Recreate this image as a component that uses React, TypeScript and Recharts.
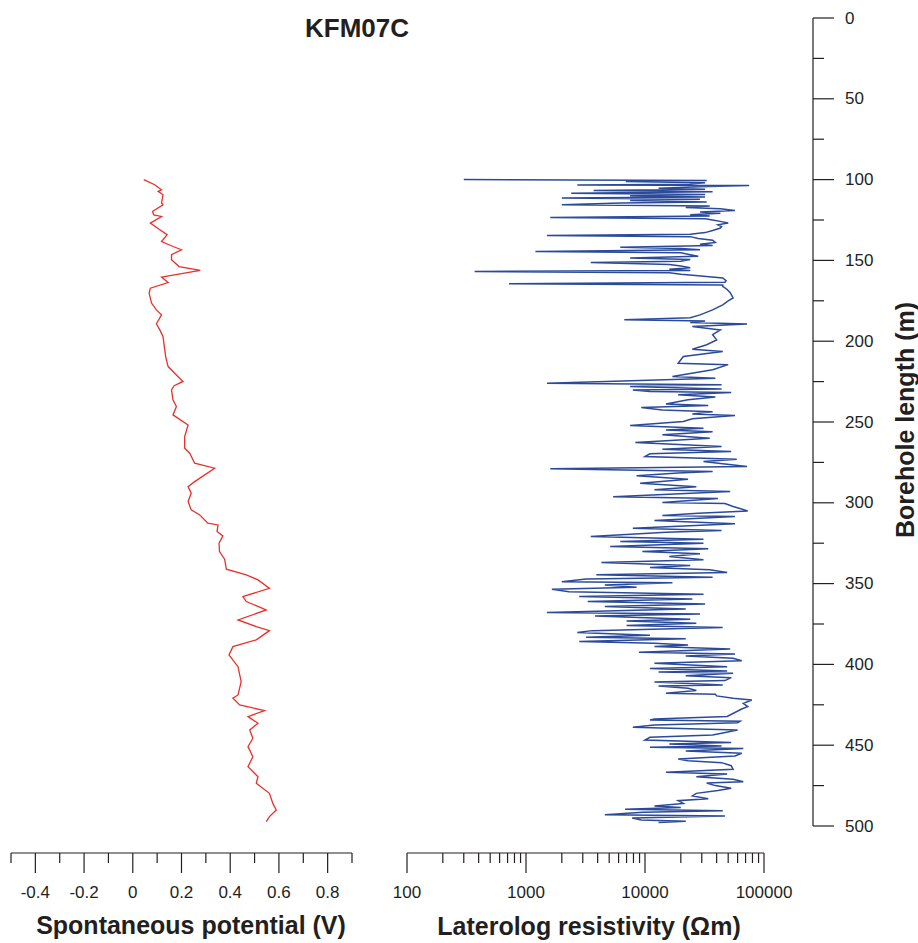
import React from 'react'
import { LineChart, Line, XAxis, YAxis } from 'recharts'

const FONT = 'Arial, "Liberation Sans", Helvetica, sans-serif'
const INK = '#231f20'
const RED = '#e8302a'
const BLUE = '#2b4a99'

// depth axis (m)
const depthMajor = [0, 50, 100, 150, 200, 250, 300, 350, 400, 450, 500]
const depthMinor = [25, 75, 125, 175, 225, 275, 325, 375, 425, 475]

// spontaneous potential axis (V)
const spMajor = [-0.4, -0.2, 0, 0.2, 0.4, 0.6, 0.8]
const spMinor = [-0.5, -0.3, -0.1, 0.1, 0.3, 0.5, 0.7, 0.9]

// laterolog resistivity axis (Ohm m, log)
const resMajor = [100, 1000, 10000, 100000]
const resMinor = [
  200, 300, 400, 500, 600, 700, 800, 900,
  2000, 3000, 4000, 5000, 6000, 7000, 8000, 9000,
  20000, 30000, 40000, 50000, 60000, 70000, 80000, 90000,
]

// spontaneous potential log
const spDepth = [
  100, 103.2, 106.3, 107.3, 109.4, 114.5, 115.6, 119.7, 121.8, 122.8,
  126.9, 131, 134.1, 138.3, 141.4, 143.4, 146.5, 149.6, 153.8, 156.2,
  160.3, 163.7, 167.2, 170.2, 176.4, 180.6, 183.7, 189.2, 193, 197.1,
  209.5, 215.7, 219.8, 224.9, 227.5, 230.1, 236.3, 240.4, 245.6, 251.8,
  259, 266.2, 269.3, 275.5, 278.6, 286.9, 290, 294, 299.2, 304.4,
  307.5, 312.6, 313.7, 317.8, 320.5, 325, 330.2, 334.9, 341.1, 344.6,
  347.7, 352.9, 358, 361.1, 366.3, 372.5, 376.6, 379.1, 384.8, 389,
  394.1, 401.4, 410.7, 418.9, 420.9, 425.1, 428.6, 432.3, 436.4, 440.6,
  445.7, 450.9, 457.1, 463.3, 469.5, 473.6, 479.8, 486, 490.1, 494.2,
  497.3,
]
const spValue = [
  0.045, 0.09, 0.118, 0.104, 0.124, 0.118, 0.124, 0.081, 0.086, 0.118,
  0.072, 0.111, 0.141, 0.118, 0.165, 0.2, 0.159, 0.159, 0.19, 0.277,
  0.118, 0.145, 0.072, 0.067, 0.077, 0.097, 0.118, 0.097, 0.111, 0.124,
  0.135, 0.145, 0.172, 0.206, 0.17, 0.159, 0.165, 0.179, 0.165, 0.227,
  0.213, 0.213, 0.234, 0.254, 0.336, 0.254, 0.227, 0.24, 0.227, 0.24,
  0.275, 0.308, 0.35, 0.346, 0.37, 0.354, 0.356, 0.377, 0.384, 0.466,
  0.514, 0.561, 0.452, 0.466, 0.548, 0.432, 0.507, 0.561, 0.507, 0.411,
  0.395, 0.432, 0.445, 0.432, 0.411, 0.439, 0.541, 0.473, 0.514, 0.48,
  0.493, 0.473, 0.493, 0.473, 0.514, 0.507, 0.561, 0.575, 0.589, 0.561,
  0.548,
]

// laterolog resistivity log
const resDepth = [
  100, 100.5, 101.2, 102, 102.8, 103.3, 103.6, 104.5, 105.3, 106,
  106.8, 107.5, 108.5, 109.2, 110, 110.7, 111.4, 112.2, 113, 113.8,
  114.5, 115.6, 116.3, 117.2, 118, 119.1, 120, 120.8, 121.7, 122.6,
  123.4, 124.2, 125, 126, 126.9, 128, 129, 130, 131.5, 132.8,
  133.8, 134.6, 135.3, 136.5, 137.5, 138.9, 140, 140.8, 141.8, 142.6,
  143.4, 144.5, 145.3, 146.5, 147.5, 148.5, 149.5, 150.5, 151.3, 152.5,
  153.5, 154.5, 155.5, 156.2, 156.9, 157.6, 158.5, 159.5, 160.9, 162.5,
  163.5, 164.5, 165.2, 166, 168, 170, 173.2, 175, 177.5, 180.6,
  183.7, 185.5, 186.8, 187.5, 188.5, 189.4, 190.9, 193, 196, 199.2,
  202.2, 205, 206.4, 209.5, 213.6, 214.5, 217.7, 221.8, 223, 226,
  227, 228, 229.6, 230.2, 231.2, 231.8, 233.2, 234.6, 236.3, 238.8,
  239.8, 241, 242.5, 243.6, 245, 246, 248, 249.7, 252.2, 253.8,
  255, 256, 257.9, 260, 262.7, 265.2, 266.8, 268.3, 269.7, 271.4,
  273, 274.5, 275.9, 277.6, 279, 280.6, 281.5, 283.3, 285.4, 287.9,
  290, 292, 293, 296.3, 297.4, 299.8, 300.5, 302.3, 305, 306.5,
  307.9, 308.5, 311, 313, 315.7, 317.2, 318.2, 320.9, 322.5, 324,
  325, 327.1, 328.5, 330.2, 331.6, 333.3, 335.3, 337, 338.8, 340.1,
  341.5, 343.2, 344.6, 346, 347.1, 348.8, 349.5, 350.8, 352.3, 353.5,
  355.1, 356.6, 358, 359.5, 361.1, 362.6, 364.2, 365.7, 367.9, 368.8,
  370, 372.1, 373.1, 374.6, 376, 377.2, 379.1, 380.3, 382, 383.2,
  384.2, 385.9, 386.9, 388, 389, 390.4, 392.5, 393.5, 394.8, 396.2,
  397.7, 399.3, 401.4, 402.6, 404.1, 404.7, 405.5, 407, 408.2, 410,
  410.9, 412.7, 413.3, 414.8, 416.2, 417.9, 418.5, 419.5, 421, 422,
  424.1, 426.1, 427.6, 432.2, 433.8, 434.4, 435.2, 436.1, 437.5, 438.9,
  440.6, 442.6, 443.7, 445.1, 446.8, 448.4, 449.3, 450.5, 451.3, 452.1,
  453.6, 455, 456.7, 458.5, 459.6, 460.8, 462.7, 464.9, 466.8, 467.8,
  469.5, 471.1, 472.6, 473.4, 475, 476.7, 478.1, 479.8, 481.4, 483.1,
  484.3, 486, 487.6, 488.5, 489.7, 490.5, 491.5, 493, 493.8, 495,
  496.3, 497.1, 497.9,
]
const resOhm = [
  300, 33000, 6900, 32000, 24000, 2700, 75000, 29000, 13000, 32000,
  3700, 37000, 2400, 32000, 7500, 32000, 2000, 29000, 7500, 33000,
  6200, 2000, 35000, 22000, 43000, 57000, 29000, 43000, 24000, 35000,
  1600, 32000, 37000, 44000, 50000, 41000, 44000, 43000, 37000, 32000,
  24000, 1500, 24000, 28000, 37000, 39000, 29000, 37000, 6200, 20000,
  29000, 1200, 20000, 24000, 28000, 7500, 24000, 20000, 3500, 16000,
  20000, 24000, 16000, 24000, 370, 16000, 20000, 28000, 45000, 48000,
  47000, 720, 45000, 45000, 49000, 52000, 55000, 50000, 45000, 37000,
  29000, 24000, 6700, 32000, 24000, 72000, 25000, 43000, 37000, 40000,
  33000, 25000, 45000, 21000, 19000, 50000, 37000, 17000, 39000, 1500,
  44000, 7500, 44000, 7900, 11000, 53000, 19000, 39000, 23000, 15000,
  34000, 9300, 14000, 37000, 25000, 57000, 25000, 21000, 7500, 31000,
  15000, 37000, 14000, 35000, 8300, 44000, 14000, 53000, 11000, 10000,
  59000, 31000, 45000, 72000, 1600, 37000, 19000, 8500, 23000, 9100,
  27000, 12000, 52000, 5400, 41000, 14000, 47000, 55000, 73000, 28000,
  14000, 57000, 12000, 57000, 7900, 44000, 15000, 3500, 31000, 6200,
  31000, 5100, 34000, 9500, 29000, 16000, 31000, 4300, 24000, 11000,
  35000, 49000, 3900, 37000, 3200, 2000, 17000, 4600, 8500, 1650,
  2300, 31000, 2800, 25000, 3300, 32000, 4600, 22000, 1500, 29000,
  3800, 24000, 7000, 27000, 7000, 45000, 3600, 2700, 11000, 3200,
  22000, 2800, 12000, 23000, 12000, 52000, 8900, 57000, 22000, 55000,
  65000, 12000, 49000, 11000, 49000, 13000, 55000, 22000, 53000, 47000,
  12000, 45000, 13000, 23000, 27000, 15000, 39000, 40000, 55000, 79000,
  67000, 73000, 65000, 49000, 12000, 11000, 63000, 60000, 12000, 7900,
  60000, 44000, 37000, 11000, 10000, 53000, 16000, 44000, 11000, 67000,
  22000, 65000, 57000, 19000, 23000, 44000, 53000, 55000, 15000, 49000,
  27000, 55000, 67000, 33000, 39000, 53000, 41000, 27000, 25000, 34000,
  19000, 21000, 12000, 20000, 6800, 45000, 9600, 4600, 47000, 7800,
  9300, 22000, 13000,
]

const spData = spDepth.map((depth, i) => ({ depth, sp: spValue[i] }))
const resData = resDepth.map((depth, i) => ({ depth, res: resOhm[i] }))
const depthData = depthMajor.map((depth) => ({ depth }))

const W = 918
const H = 943
const TOP = 18
const DEPTH_BOTTOM = 826
const AXIS_Y = 853
// the two log panels run a little past 500 m so their bottom axes sit below the depth axis
const DEPTH_EXT = (500 * (AXIS_Y - TOP)) / (DEPTH_BOTTOM - TOP)

const sortNum = (a: number[]) => [...a].sort((p, q) => p - q)

const bottomTick = (majors: number[]) => (props: any) => {
  const { x, y, payload } = props
  const major = majors.includes(payload.value)
  return (
    <g>
      <line x1={x} y1={y} x2={x} y2={y + (major ? 20 : 10)} stroke={INK} strokeWidth={1.2} />
      {major && (
        <text x={x} y={y + 39} textAnchor="middle" dominantBaseline="central"
          fontSize={17} fill={INK} fontFamily={FONT}>
          {payload.value}
        </text>
      )}
    </g>
  )
}

function DepthTick(props: any) {
  const { x, y, payload } = props
  const major = depthMajor.includes(payload.value)
  return (
    <g>
      <line x1={x} y1={y} x2={x + (major ? 21 : 11)} y2={y} stroke={INK} strokeWidth={1.2} />
      {major && (
        <text x={x + 32} y={y} textAnchor="start" dominantBaseline="central"
          fontSize={17} fill={INK} fontFamily={FONT}>
          {payload.value}
        </text>
      )}
    </g>
  )
}

const abs: React.CSSProperties = { position: 'absolute', left: 0, top: 0 }

function Caption({ x, y, size, rotate, children }: any) {
  return (
    <div
      style={{
        position: 'absolute', left: x, top: y, whiteSpace: 'nowrap',
        transform: `translate(-50%, -50%)${rotate ? ' rotate(-90deg)' : ''}`,
        fontFamily: FONT, fontWeight: 700, fontSize: size, color: INK, lineHeight: 1,
      }}
    >
      {children}
    </div>
  )
}

export default function App() {
  return (
    <div style={{ position: 'absolute', left: 0, top: 0, width: W, height: H, background: '#fff' }}>
      <div style={abs}>
        <LineChart width={W} height={H} data={spData} layout="vertical"
          margin={{ top: TOP, left: 11, right: W - 352, bottom: H - AXIS_Y - 60 }}>
          <XAxis type="number" dataKey="sp" domain={[-0.5, 0.9]} allowDataOverflow
            ticks={sortNum([...spMajor, ...spMinor])} interval={0} height={60}
            tickSize={0} tickMargin={0} tickLine={false}
            axisLine={{ stroke: INK, strokeWidth: 1.2 }} tick={bottomTick(spMajor)} />
          <YAxis type="number" dataKey="depth" domain={[0, DEPTH_EXT]} allowDataOverflow hide />
          <Line type="linear" dataKey="sp" stroke={RED} strokeWidth={1.3} dot={false}
            isAnimationActive={false} />
        </LineChart>
      </div>

      <div style={abs}>
        <LineChart width={W} height={H} data={resData} layout="vertical"
          margin={{ top: TOP, left: 407, right: W - 764, bottom: H - AXIS_Y - 60 }}>
          <XAxis type="number" dataKey="res" scale="log" domain={[100, 100000]} allowDataOverflow
            ticks={sortNum([...resMajor, ...resMinor])} interval={0} height={60}
            tickSize={0} tickMargin={0} tickLine={false}
            axisLine={{ stroke: INK, strokeWidth: 1.2 }} tick={bottomTick(resMajor)} />
          <YAxis type="number" dataKey="depth" domain={[0, DEPTH_EXT]} allowDataOverflow hide />
          <Line type="linear" dataKey="res" stroke={BLUE} strokeWidth={1.5} dot={false}
            isAnimationActive={false} />
        </LineChart>
      </div>

      <div style={abs}>
        <LineChart width={W} height={H} data={depthData} layout="vertical"
          margin={{ top: TOP, left: 790, right: W - 813 - 80, bottom: H - DEPTH_BOTTOM }}>
          <XAxis type="number" hide domain={[0, 1]} />
          <YAxis type="number" dataKey="depth" orientation="right" width={80}
            domain={[0, 500]} ticks={sortNum([...depthMajor, ...depthMinor])} interval={0}
            tickSize={0} tickMargin={0} tickLine={false}
            axisLine={{ stroke: INK, strokeWidth: 1.2 }} tick={<DepthTick />} />
        </LineChart>
      </div>

      <Caption x={357} y={28} size={26}>KFM07C</Caption>
      <Caption x={191} y={925} size={25}>Spontaneous potential (V)</Caption>
      <Caption x={589} y={926} size={25}>Laterolog resistivity (Ωm)</Caption>
      <Caption x={905} y={420} size={25} rotate>Borehole length (m)</Caption>
    </div>
  )
}
